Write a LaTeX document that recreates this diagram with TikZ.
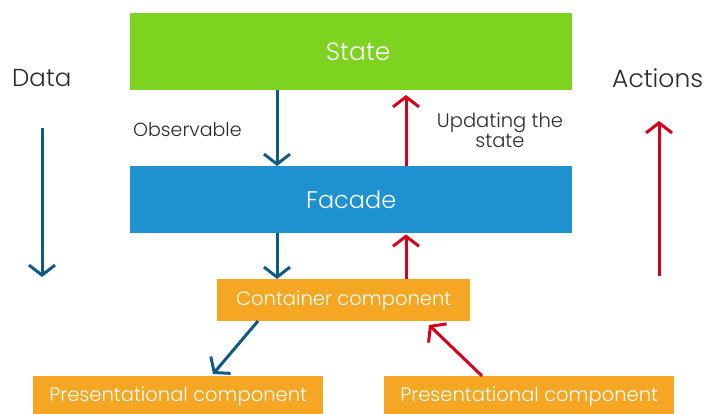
\documentclass[tikz,border=0pt]{standalone}
\usepackage{fontspec}
\setmainfont{Poppins Light}
\usetikzlibrary{arrows.meta}
\definecolor{stgreen}{HTML}{7ED321}
\definecolor{fcblue}{HTML}{1E92D0}
\definecolor{cporange}{HTML}{F5A623}
\definecolor{arrblue}{HTML}{0F5A86}
\definecolor{arrred}{HTML}{D9001B}
\definecolor{txtgray}{HTML}{2A2A2A}
\tikzset{
  box/.style={fill=#1, draw=none, text=white, inner sep=0pt, anchor=north west},
  darr/.style={draw=arrblue, line width=3pt, -{Straight Barb[length=10pt,width=26pt,line width=3pt]}},
  rarr/.style={draw=arrred, line width=3pt, -{Straight Barb[length=10pt,width=26pt,line width=3pt]}},
  lbl/.style={text=txtgray, inner sep=0pt},
}
\begin{document}
\begin{tikzpicture}[x=1pt,y=-1pt]
\useasboundingbox (0,0) rectangle (709,414);
% boxes
\node[box=stgreen, minimum width=442pt, minimum height=77pt, font=\fontsize{25}{30}\selectfont] (state) at (130,13) {\hspace*{14pt}State};
\node[box=fcblue, minimum width=442pt, minimum height=67pt, font=\fontsize{24}{29}\selectfont] (facade) at (130,166) {Facade};
\node[box=cporange, minimum width=253pt, minimum height=42pt, font=\fontsize{19.5}{23}\selectfont] (cont) at (217,279) {Container component};
\node[box=cporange, minimum width=290pt, minimum height=40pt, font=\fontsize{19.5}{23}\selectfont] (pres1) at (33,376) {Presentational component};
\node[box=cporange, minimum width=290pt, minimum height=40pt, font=\fontsize{19.5}{23}\selectfont] (pres2) at (384,376) {Presentational component};
% labels
\node[lbl, font=\fontsize{24.5}{29}\selectfont, anchor=west] (data) at (12,78) {Data};
\node[lbl, font=\fontsize{25}{29}\selectfont, anchor=west] (actions) at (612,78) {Actions};
\node[lbl, font=\fontsize{19}{22}\selectfont, anchor=west] (obs) at (133,130) {Observable};
\node[lbl, font=\fontsize{19.5}{20}\selectfont, align=center] (upd) at (500,130) {Updating the\\state};
% coordinates
\coordinate (d1) at (42,128);
\coordinate (d2) at (42,277);
\coordinate (a1) at (659,276);
\coordinate (a2) at (659,121);
\coordinate (u2) at (406,95);
% arrows
\draw[darr] (d1) -- (d2);
\draw[rarr] (a1) -- (a2);
\draw[darr] (state.south -| 277,0) -- (facade.north -| 277,0);
\draw[rarr] (facade.north -| 406,0) -- (u2);
\draw[darr] (facade.south -| 277,0) -- (cont.north -| 277,0);
\draw[rarr] (cont.north -| 406,0) -- ([yshift=-1pt]facade.south -| 406,0);
\draw[darr] (258,321) -- (213,374);
\draw[rarr] (482,376) -- (429,325);
\end{tikzpicture}
\end{document}
